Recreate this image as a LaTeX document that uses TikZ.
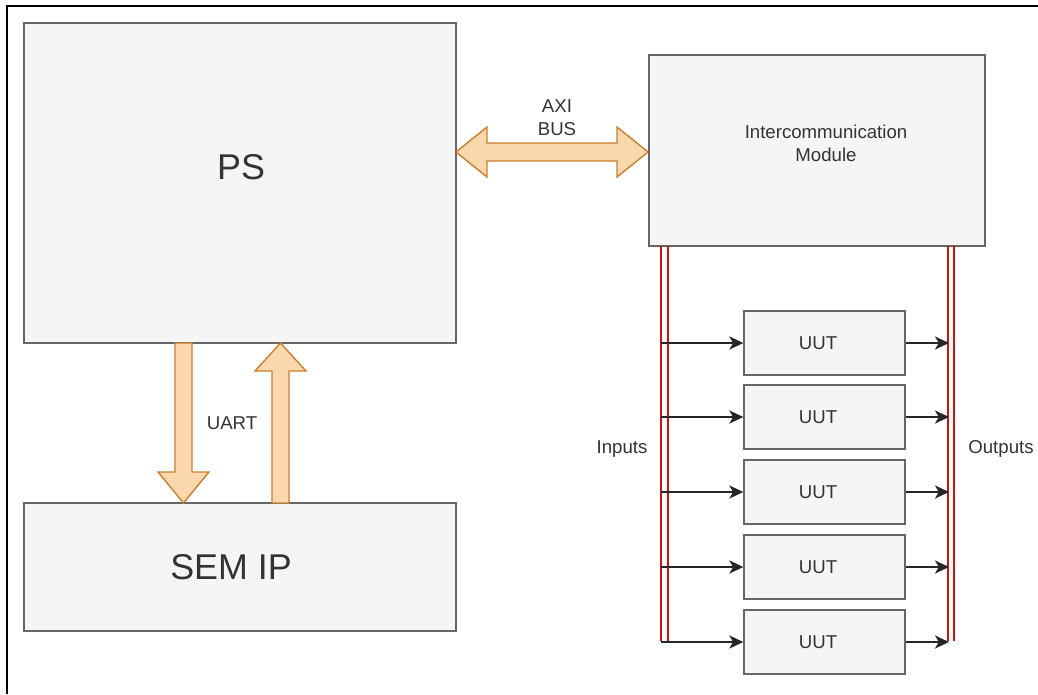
\documentclass[tikz,border=0pt]{standalone}
\usepackage{fontspec}
\setmainfont{Liberation Sans}
\usetikzlibrary{arrows.meta}
\definecolor{boxfill}{HTML}{F5F5F5}
\definecolor{boxline}{HTML}{666666}
\definecolor{txt}{HTML}{333333}
\definecolor{orfill}{HTML}{FAD7AC}
\definecolor{orline}{HTML}{C9802E}
\definecolor{redl}{HTML}{CC1111}
\begin{document}
\begin{tikzpicture}[x=0.02cm,y=-0.02cm,
 box/.style={draw=boxline,fill=boxfill,line width=0.8pt,inner sep=0pt},
 big/.style={text=txt,font=\fontsize{20.4}{24}\selectfont},
 small/.style={text=txt,font=\fontsize{10.6}{13}\selectfont,align=center,inner sep=0pt},
 fat/.style={draw=orline,fill=orfill,line width=0.8pt,line join=miter},
 bus/.style={draw=redl,line width=0.7pt},
 sig/.style={draw=black!85,line width=0.8pt,-{Stealth[length=8pt,width=7.5pt,inset=2.2pt]}},
 uut/.style={box,minimum width=3.22cm,minimum height=1.28cm}]

\useasboundingbox (0,0) rectangle (1038,694);
\draw[line width=1.2pt] (7,694) -- (7,6) -- (1038,6);

% main boxes
\node[box,minimum width=8.64cm,minimum height=6.4cm] (ps) at (240,183) {};
\node[big] (pst) at (241,167) {PS};
\node[box,minimum width=8.64cm,minimum height=2.56cm] (sem) at (240,567) {};
\node[big] (semt) at (231,567) {SEM IP};
\node[box,minimum width=6.72cm,minimum height=3.82cm] (icm) at (817,150.5) {};
\node[small] (icmt) at (826,143) {Intercommunication\\Module};

% AXI bus double arrow
\draw[fat] (456,152) -- (487,127) -- (487,143) -- (617,143) -- (617,127) -- (648,152)
  -- (617,177) -- (617,161) -- (487,161) -- (487,177) -- cycle;
\node[small] (axi) at (557,118) {AXI\\BUS};

% UART arrows
\draw[fat] (175,343) -- (192,343) -- (192,472) -- (209,472) -- (183.5,503)
  -- (158,472) -- (175,472) -- cycle;
\draw[fat] (272,503) -- (289,503) -- (289,371) -- (306,371) -- (280.5,343)
  -- (255,371) -- (272,371) -- cycle;
\node[small] (uart) at (232,423) {UART};

% UUT boxes
\foreach \i/\y in {1/343,2/417,3/492,4/567,5/642}{
  \node[uut] (u\i) at (824.5,\y) {};
  \node[small] (ut\i) at (818,\y) {UUT};
  \coordinate (in\i) at (661,\y);
  \coordinate (out\i) at (949,\y);
}

% red buses (double lines)
\coordinate (lt) at (664.5,246);
\coordinate (lb) at (664.5,641);
\coordinate (rt) at (951,246);
\coordinate (rb) at (951,641);
\draw[bus] ([xshift=-3.5*0.02cm]lt) -- ([xshift=-3.5*0.02cm]lb);
\draw[bus] ([xshift=3.5*0.02cm]lt) -- ([xshift=3.5*0.02cm]lb);
\draw[bus] ([xshift=-3*0.02cm]rt) -- ([xshift=-3*0.02cm]rb);
\draw[bus] ([xshift=3*0.02cm]rt) -- ([xshift=3*0.02cm]rb);

% signal arrows
\foreach \i in {1,...,5}{
  \draw[sig] (in\i) -- (u\i.west);
  \draw[sig] (u\i.east) -- (out\i);
}

\node[small] (inl) at (622,449) {Inputs};
\node[small] (outl) at (1001,449) {Outputs};
\end{tikzpicture}
\end{document}
